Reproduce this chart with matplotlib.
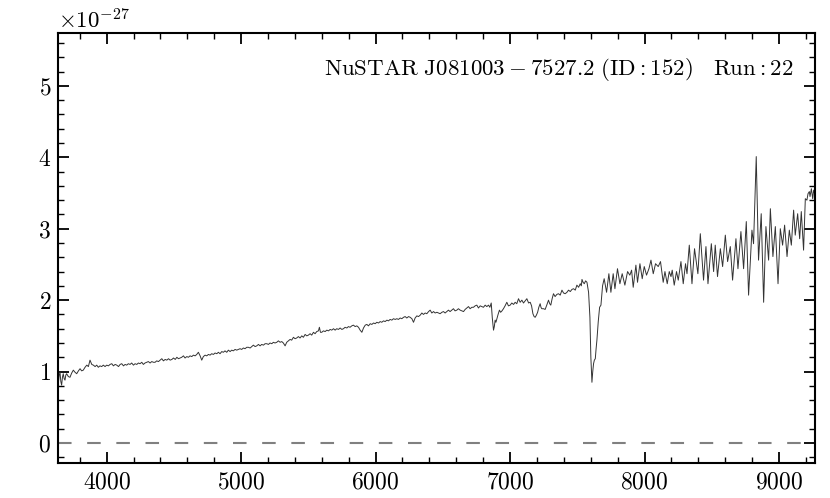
import numpy as np
import matplotlib
matplotlib.use("Agg")
import matplotlib.pyplot as plt
from matplotlib.ticker import MultipleLocator

plt.rcParams['font.family'] = 'serif'
plt.rcParams['font.serif'] = ['cmr10', 'DejaVu Serif']
plt.rcParams['mathtext.fontset'] = 'cm'
plt.rcParams['axes.formatter.use_mathtext'] = True
plt.rcParams['axes.unicode_minus'] = False

# wavelength (Angstrom) and flux (units of 1e-27)
wavelength = [
    3640, 3647, 3653, 3659, 3665, 3671, 3677, 3684, 3690, 3696, 3702, 3715, 3727, 3740, 3752, 3765,
    3777, 3790, 3802, 3814, 3826, 3839, 3852, 3864, 3876, 3889, 3901, 3914, 3926, 3938, 3950, 3963,
    3975, 3988, 4000, 4013, 4025, 4038, 4050, 4063, 4075, 4088, 4100, 4112, 4125, 4137, 4149, 4161,
    4174, 4186, 4199, 4211, 4224, 4236, 4248, 4261, 4273, 4285, 4298, 4310, 4323, 4335, 4348, 4360,
    4372, 4385, 4397, 4410, 4422, 4435, 4447, 4460, 4472, 4485, 4497, 4510, 4522, 4534, 4546, 4558,
    4571, 4583, 4596, 4608, 4620, 4633, 4645, 4658, 4670, 4682, 4695, 4707, 4719, 4732, 4744, 4757,
    4769, 4781, 4794, 4806, 4819, 4831, 4843, 4856, 4868, 4880, 4893, 4905, 4918, 4930, 4942, 4955,
    4967, 4980, 4992, 5004, 5017, 5029, 5042, 5054, 5067, 5079, 5091, 5104, 5116, 5129, 5141, 5153,
    5166, 5178, 5191, 5203, 5215, 5228, 5240, 5252, 5265, 5277, 5290, 5302, 5314, 5327, 5339, 5352,
    5364, 5376, 5389, 5401, 5413, 5426, 5438, 5451, 5463, 5476, 5488, 5500, 5513, 5525, 5538, 5550,
    5562, 5575, 5582, 5590, 5600, 5612, 5625, 5637, 5650, 5662, 5674, 5687, 5699, 5711, 5724, 5736,
    5749, 5761, 5773, 5786, 5798, 5810, 5823, 5835, 5848, 5860, 5873, 5885, 5898, 5910, 5923, 5935,
    5947, 5960, 5972, 5985, 5997, 6009, 6022, 6034, 6046, 6059, 6071, 6084, 6096, 6108, 6121, 6133,
    6146, 6158, 6170, 6183, 6195, 6208, 6220, 6232, 6245, 6257, 6270, 6282, 6294, 6307, 6319, 6332,
    6344, 6356, 6369, 6381, 6394, 6406, 6418, 6431, 6443, 6456, 6468, 6480, 6493, 6505, 6517, 6530,
    6542, 6554, 6567, 6579, 6591, 6604, 6616, 6629, 6641, 6654, 6666, 6678, 6691, 6703, 6716, 6728,
    6740, 6753, 6765, 6778, 6790, 6802, 6815, 6827, 6840, 6850, 6860, 6868, 6877, 6883, 6889, 6895,
    6902, 6911, 6921, 6930, 6940, 6951, 6963, 6976, 6988, 7001, 7013, 7026, 7038, 7050, 7063, 7075,
    7088, 7100, 7113, 7125, 7138, 7150, 7160, 7170, 7179, 7187, 7196, 7205, 7214, 7224, 7230, 7236,
    7249, 7261, 7273, 7286, 7295, 7303, 7313, 7323, 7335, 7348, 7360, 7373, 7386, 7398, 7410, 7423,
    7435, 7448, 7460, 7472, 7485, 7497, 7510, 7522, 7530, 7535, 7543, 7552, 7562, 7572, 7584, 7594,
    7601, 7609, 7615, 7621, 7627, 7634, 7640, 7646, 7656, 7666, 7676, 7688, 7700, 7718, 7735, 7750,
    7767, 7780, 7799, 7817, 7834, 7854, 7874, 7891, 7904, 7916, 7936, 7948, 7966, 7983, 7998, 8015,
    8033, 8048, 8065, 8082, 8102, 8119, 8139, 8152, 8169, 8184, 8197, 8206, 8221, 8238, 8251, 8271,
    8288, 8305, 8316, 8333, 8353, 8372, 8397, 8415, 8439, 8457, 8472, 8497, 8514, 8526, 8543, 8564,
    8581, 8601, 8618, 8638, 8655, 8680, 8695, 8717, 8737, 8757, 8774, 8799, 8811, 8831, 8848, 8868,
    8886, 8903, 8923, 8936, 8955, 8973, 8993, 9010, 9027, 9042, 9060, 9077, 9092, 9109, 9121, 9139,
    9154, 9166, 9183, 9196, 9208, 9216, 9226, 9231, 9241, 9251, 9258, 9264,
]
flux = [
    0.83, 0.95, 0.99, 0.86, 0.81, 0.92, 0.97, 0.90, 0.88, 0.95, 0.97, 0.93, 0.92, 0.98, 1.02, 0.99,
    0.97, 1.01, 1.04, 1.01, 1.02, 1.06, 1.09, 1.07, 1.16, 1.10, 1.09, 1.07, 1.09, 1.06, 1.08, 1.07,
    1.09, 1.07, 1.09, 1.08, 1.10, 1.11, 1.08, 1.10, 1.09, 1.07, 1.10, 1.11, 1.08, 1.10, 1.09, 1.11,
    1.10, 1.12, 1.09, 1.11, 1.10, 1.12, 1.11, 1.13, 1.10, 1.12, 1.13, 1.14, 1.12, 1.14, 1.13, 1.13,
    1.15, 1.14, 1.16, 1.18, 1.15, 1.17, 1.16, 1.18, 1.16, 1.17, 1.19, 1.17, 1.20, 1.18, 1.19, 1.20,
    1.22, 1.19, 1.21, 1.20, 1.22, 1.21, 1.23, 1.22, 1.24, 1.27, 1.22, 1.16, 1.21, 1.23, 1.22, 1.24,
    1.23, 1.25, 1.24, 1.26, 1.25, 1.27, 1.25, 1.28, 1.27, 1.29, 1.27, 1.30, 1.28, 1.30, 1.29, 1.31,
    1.30, 1.31, 1.32, 1.31, 1.33, 1.32, 1.34, 1.34, 1.33, 1.35, 1.37, 1.35, 1.36, 1.38, 1.36, 1.38,
    1.37, 1.39, 1.39, 1.38, 1.40, 1.39, 1.41, 1.40, 1.41, 1.43, 1.41, 1.42, 1.40, 1.36, 1.41, 1.43,
    1.45, 1.44, 1.48, 1.46, 1.47, 1.49, 1.47, 1.50, 1.48, 1.52, 1.50, 1.51, 1.53, 1.51, 1.55, 1.53,
    1.56, 1.57, 1.62, 1.55, 1.55, 1.57, 1.56, 1.58, 1.57, 1.59, 1.58, 1.60, 1.58, 1.60, 1.59, 1.61,
    1.59, 1.60, 1.62, 1.61, 1.63, 1.62, 1.64, 1.65, 1.63, 1.64, 1.62, 1.58, 1.55, 1.61, 1.65, 1.66,
    1.64, 1.67, 1.66, 1.68, 1.67, 1.69, 1.68, 1.70, 1.69, 1.71, 1.70, 1.72, 1.71, 1.73, 1.72, 1.74,
    1.73, 1.74, 1.73, 1.75, 1.74, 1.76, 1.77, 1.75, 1.77, 1.76, 1.74, 1.69, 1.75, 1.78, 1.77, 1.79,
    1.82, 1.80, 1.82, 1.81, 1.84, 1.86, 1.82, 1.84, 1.82, 1.83, 1.82, 1.81, 1.83, 1.84, 1.82, 1.84,
    1.86, 1.84, 1.86, 1.88, 1.85, 1.86, 1.88, 1.86, 1.85, 1.84, 1.87, 1.89, 1.91, 1.88, 1.90, 1.90,
    1.92, 1.93, 1.89, 1.92, 1.91, 1.90, 1.93, 1.91, 1.93, 1.90, 1.96, 1.75, 1.58, 1.63, 1.72, 1.69,
    1.74, 1.80, 1.86, 1.83, 1.85, 1.88, 1.92, 1.97, 1.92, 1.93, 1.96, 1.94, 1.97, 1.95, 2.02, 1.97,
    2.00, 1.96, 1.99, 2.02, 1.96, 1.97, 1.92, 1.81, 1.77, 1.76, 1.79, 1.83, 1.90, 1.95, 1.90, 1.88,
    1.88, 1.87, 1.93, 2.00, 1.95, 1.93, 2.02, 2.09, 2.05, 2.08, 2.09, 2.07, 2.14, 2.10, 2.09, 2.11,
    2.14, 2.12, 2.15, 2.16, 2.14, 2.21, 2.18, 2.23, 2.20, 2.29, 2.25, 2.23, 2.27, 2.25, 2.11, 1.76,
    1.20, 0.85, 1.00, 1.11, 1.16, 1.18, 1.32, 1.44, 1.70, 1.90, 1.93, 2.20, 2.30, 2.11, 2.37, 2.11,
    2.37, 2.16, 2.44, 2.23, 2.37, 2.21, 2.40, 2.35, 2.42, 2.18, 2.49, 2.25, 2.51, 2.30, 2.47, 2.35,
    2.44, 2.56, 2.37, 2.51, 2.47, 2.54, 2.25, 2.40, 2.23, 2.40, 2.33, 2.42, 2.21, 2.40, 2.28, 2.54,
    2.23, 2.51, 2.37, 2.77, 2.23, 2.72, 2.37, 2.93, 2.28, 2.75, 2.23, 2.79, 2.40, 2.77, 2.33, 2.72,
    2.47, 2.91, 2.54, 2.75, 2.28, 2.86, 2.44, 2.96, 2.44, 3.10, 2.07, 2.98, 2.79, 4.01, 2.56, 3.21,
    1.97, 3.03, 2.56, 3.28, 2.61, 3.03, 2.23, 3.00, 2.77, 3.05, 2.61, 2.98, 2.77, 3.26, 2.91, 3.21,
    2.86, 3.24, 2.70, 3.42, 3.40, 3.49, 3.52, 3.45, 3.56, 3.42, 3.54, 3.50,
]
flux_scale = 1e-27
zero_level = 0.0
x_limits = (3638, 9268)
y_limits = (-0.28, 5.74)
label_text = r'$\mathrm{NuSTAR\ J081003-7527.2\ (ID:152)\quad Run:22}$'

fig = plt.figure(figsize=(8.3, 4.98), dpi=100)
ax = fig.add_axes([58 / 830, 1 - 463 / 498, (815 - 58) / 830, (463 - 33) / 498])

ax.plot(wavelength, np.array(flux) * flux_scale, color='#333333', lw=0.7)
ax.axhline(zero_level, color='#808080', lw=1.5, dashes=(6.5, 7.5))

ax.set_xlim(*x_limits)
ax.set_ylim(y_limits[0] * flux_scale, y_limits[1] * flux_scale)

ax.xaxis.set_major_locator(MultipleLocator(1000))
ax.xaxis.set_minor_locator(MultipleLocator(200))
ax.yaxis.set_major_locator(MultipleLocator(1e-27))
ax.yaxis.set_minor_locator(MultipleLocator(0.2e-27))

ax.tick_params(which='both', direction='in', top=True, right=True, labelsize=17)
ax.tick_params(which='major', length=8, width=1.3)
ax.tick_params(axis='x', which='major', pad=6)
ax.tick_params(axis='y', which='major', pad=5)
ax.tick_params(which='minor', length=4.5, width=1.0)
for s in ax.spines.values():
    s.set_linewidth(1.5)

ax.yaxis.get_offset_text().set_fontsize(16.5)

ax.text(0.972, 0.914, label_text, transform=ax.transAxes, ha='right', va='center', fontsize=16.5)

fig.savefig('out.png', dpi=100)
